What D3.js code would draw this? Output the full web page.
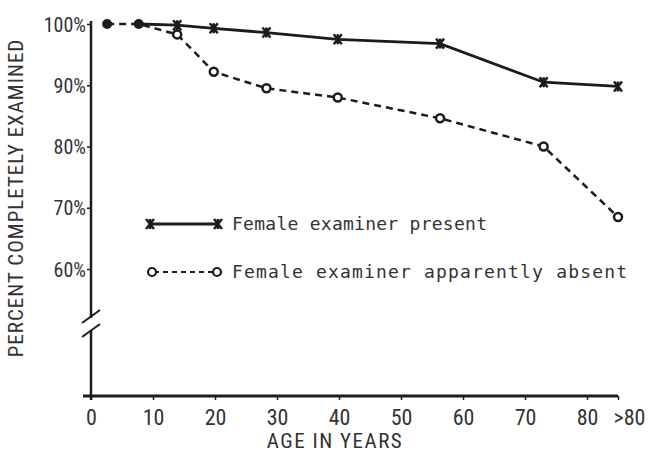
<!DOCTYPE html>
<html>
<head>
<meta charset="utf-8">
<script src="https://cdn.jsdelivr.net/npm/d3@7"></script>
<style>
  body { margin: 0; background: #fff; }
  text { fill: #333; }
</style>
</head>
<body>
<svg id="chart" width="649" height="454"></svg>
<script>
// values
let ages = [2.6, 7.7, 13.9, 19.8, 28.3, 39.8, 56.3, 73, 85];
let presentPct = [null, 100, 99.8, 99.3, 98.6, 97.5, 96.8, 90.5, 89.8];
let absentPct = [100, 100, 98.3, 92.2, 89.5, 88.0, 84.6, 80.0, 68.5];
let xTicks = [0, 10, 20, 30, 40, 50, 60, 70, 80, 85];
let yTicks = [60, 70, 80, 90, 100];
let legendLabels = ["Female examiner present", "Female examiner apparently absent"];

let svg = d3.select("#chart");
let ink = "#1c1c1c";
let narrow = "'Liberation Sans Narrow', 'Roboto Condensed', sans-serif";

let x = d3.scaleLinear().domain([0, 85]).range([91, 618]);
let y = d3.scaleLinear().domain([60, 100]).range([269, 24]);
let baseY = 396; // x axis sits below the axis break

let present = ages.map((a, i) => ({age: a, pct: presentPct[i]})).filter(d => d.pct != null);
let absent = ages.map((a, i) => ({age: a, pct: absentPct[i]}));

// y axis ticks and labels
let yAxis = d3.axisLeft(y)
  .tickValues(yTicks)
  .tickSize(4)
  .tickPadding(1)
  .tickFormat(d => d + "%");
let yGroup = svg.append("g").attr("transform", "translate(" + x(0) + ",0)").call(yAxis);
yGroup.select(".domain").remove();
yGroup.selectAll("line").attr("stroke", ink).attr("stroke-width", 1.5);
yGroup.selectAll("text")
  .attr("font-family", narrow)
  .attr("font-size", 20)
  .attr("dy", "0.36em");

// x axis ticks and labels
let xAxis = d3.axisBottom(x)
  .tickValues(xTicks)
  .tickSize(4)
  .tickPadding(9)
  .tickFormat(d => d == 85 ? ">80" : d);
let xGroup = svg.append("g").attr("transform", "translate(0," + baseY + ")").call(xAxis);
xGroup.select(".domain").remove();
xGroup.selectAll("line").attr("stroke", ink).attr("stroke-width", 1.5);
xGroup.selectAll("text")
  .attr("font-family", narrow)
  .attr("font-size", 22)
  .attr("dx", d => d == 85 ? 11 : 0);

// axis lines, with a break on the y axis
let breakY = 324;
svg.append("line")
  .attr("x1", x(0)).attr("x2", x(0))
  .attr("y1", y(100) - 3).attr("y2", breakY - 6)
  .attr("stroke", ink).attr("stroke-width", 2.5);
svg.append("line")
  .attr("x1", x(0)).attr("x2", x(0))
  .attr("y1", breakY + 6).attr("y2", baseY + 4)
  .attr("stroke", ink).attr("stroke-width", 2.5);
[-7, 7].forEach(off => {
  svg.append("line")
    .attr("x1", x(0) - 9).attr("y1", breakY + off + 6)
    .attr("x2", x(0) + 9).attr("y2", breakY + off - 7)
    .attr("stroke", ink).attr("stroke-width", 2);
});
svg.append("line")
  .attr("x1", x(0) - 8).attr("x2", x(85))
  .attr("y1", baseY).attr("y2", baseY)
  .attr("stroke", ink).attr("stroke-width", 3);

// axis titles
svg.append("text")
  .attr("transform", "translate(23," + 198 + ") rotate(-90)")
  .attr("text-anchor", "middle")
  .attr("font-family", narrow)
  .attr("font-size", 21)
  .attr("letter-spacing", 1)
  .text("PERCENT COMPLETELY EXAMINED");
svg.append("text")
  .attr("x", 335).attr("y", 448)
  .attr("text-anchor", "middle")
  .attr("font-family", narrow)
  .attr("font-size", 21)
  .attr("letter-spacing", 1.5)
  .text("AGE IN YEARS");

// lines
let line = d3.line().x(d => x(d.age)).y(d => y(d.pct));
svg.append("path").datum(absent)
  .attr("d", line)
  .attr("fill", "none").attr("stroke", ink)
  .attr("stroke-width", 2.5).attr("stroke-dasharray", "7,5");
svg.append("path").datum(present)
  .attr("d", line)
  .attr("fill", "none").attr("stroke", ink)
  .attr("stroke-width", 2.8);

let crossPath = "M-4,-5L4,5M4,-5L-4,5M0,-5L0,5";

// markers: open circles, x marks, filled where both groups hit 100%
svg.selectAll(".open").data(absent.filter(d => d.pct < 100)).enter()
  .append("circle").attr("class", "open")
  .attr("cx", d => x(d.age)).attr("cy", d => y(d.pct)).attr("r", 4)
  .attr("fill", "#fff").attr("stroke", ink).attr("stroke-width", 2.5);
svg.selectAll(".cross").data(present.filter(d => d.pct < 100)).enter()
  .append("path").attr("class", "cross")
  .attr("transform", d => "translate(" + x(d.age) + "," + y(d.pct) + ")")
  .attr("d", crossPath)
  .attr("fill", "none").attr("stroke", ink).attr("stroke-width", 2.5);
svg.selectAll(".full").data(absent.filter(d => d.pct == 100)).enter()
  .append("circle").attr("class", "full")
  .attr("cx", d => x(d.age)).attr("cy", d => y(d.pct)).attr("r", 5)
  .attr("fill", ink);

// legend
let legend = svg.append("g");
let lx1 = 150, lx2 = 218, ly = [224, 272];
legend.append("line")
  .attr("x1", lx1).attr("x2", lx2).attr("y1", ly[0]).attr("y2", ly[0])
  .attr("stroke", ink).attr("stroke-width", 3);
[lx1, lx2].forEach(px => {
  legend.append("path")
    .attr("transform", "translate(" + px + "," + ly[0] + ")")
    .attr("d", crossPath)
    .attr("fill", "none").attr("stroke", ink).attr("stroke-width", 2.5);
});
legend.append("line")
  .attr("x1", lx1 + 4).attr("x2", lx2 - 4).attr("y1", ly[1]).attr("y2", ly[1])
  .attr("stroke", ink).attr("stroke-width", 2).attr("stroke-dasharray", "5,4");
[lx1 + 2, lx2 - 1].forEach(px => {
  legend.append("circle")
    .attr("cx", px).attr("cy", ly[1]).attr("r", 4)
    .attr("fill", "#fff").attr("stroke", ink).attr("stroke-width", 2.2);
});
legend.selectAll("text").data(legendLabels).enter()
  .append("text")
  .attr("x", 232)
  .attr("y", (d, i) => ly[i] + 6)
  .attr("font-family", "'DejaVu Sans Mono', monospace")
  .attr("font-size", 18)
  .attr("textLength", (d, i) => i == 0 ? 255 : 395)
  .text(d => d);
</script>
</body>
</html>
